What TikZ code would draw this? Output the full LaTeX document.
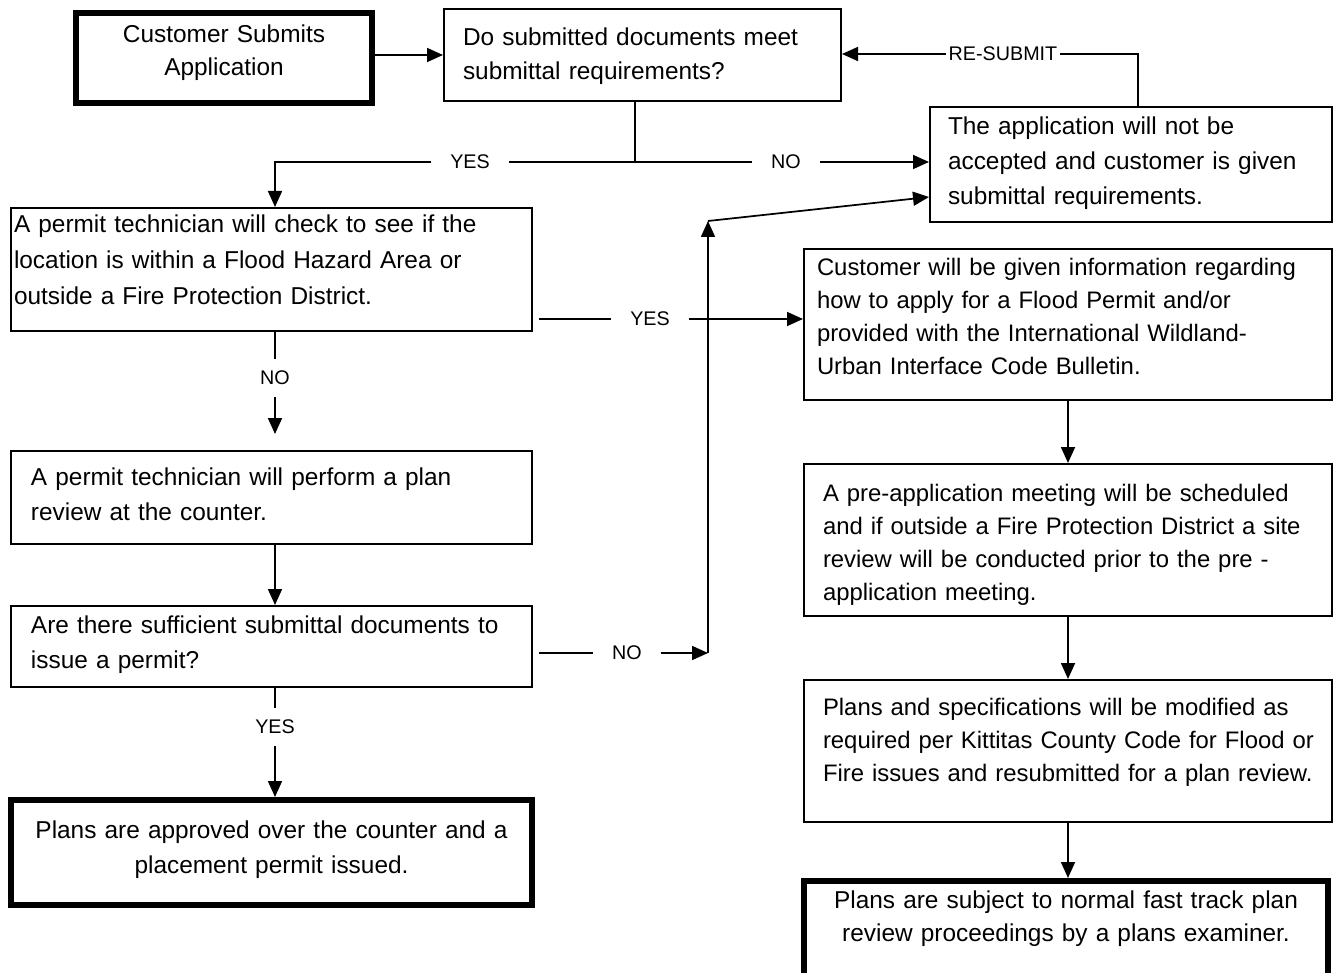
\documentclass[tikz,border=0pt]{standalone}
\usepackage{fontspec}
\setmainfont{Liberation Sans}
\usetikzlibrary{arrows.meta}
\begin{document}
\begin{tikzpicture}[x=0.75pt,y=-0.75pt,
  box/.style={draw, line width=1.6pt, rectangle, inner sep=0pt, anchor=north west, align=left,
    font=\fontsize{18.3}{26.25}\selectfont},
  thickbox/.style={box, line width=4.5pt, align=center},
  rbox/.style={box, font=\fontsize{17.9}{24.75}\selectfont},
  lbl/.style={inner xsep=14pt, inner ysep=9pt, font=\fontsize{14.8}{17}\selectfont},
  conn/.style={line width=1.3pt},
  arr/.style={conn, -{Triangle[length=12pt,width=10.5pt]}},
]
\useasboundingbox (0,0) rectangle (1337,973);

% boxes
\node[thickbox, text width=222pt, text height=22.5pt, text depth=45pt,
  font=\fontsize{18.3}{24.75}\selectfont] (A) at (73,10)
  {Customer Submits\\Application};
\node[box, text width=297.65pt, text height=27.7pt, text depth=41.2pt,
  font=\fontsize{18.3}{25.5}\selectfont] (B) at (443,8)
  {\leftskip=14.2pt\relax Do submitted documents meet\\submittal requirements?\par};
\node[box, text width=301.4pt, text height=20.95pt, text depth=65.2pt] (C) at (929,106)
  {\leftskip=13.45pt\relax The application will not be\\accepted and customer is given\\submittal requirements.\par};
\node[box, text width=390.65pt, text height=18.7pt, text depth=73.45pt,
  font=\fontsize{18.3}{27}\selectfont] (D) at (10,207)
  {\leftskip=2.2pt\relax A permit technician will check to see if the\\location is within a Flood Hazard Area or\\outside a Fire Protection District.\par};
\node[box, text width=390.65pt, text height=25.45pt, text depth=44.2pt] (E) at (10,450)
  {\leftskip=14.95pt\relax A permit technician will perform a plan\\review at the counter.\par};
\node[box, text width=390.65pt, text height=20.2pt, text depth=40.45pt] (F) at (10,605)
  {\leftskip=14.95pt\relax Are there sufficient submittal documents to\\issue a permit?\par};
\node[thickbox, text width=390.75pt, text height=28.5pt, text depth=50.25pt] (G) at (8,797)
  {Plans are approved over the counter and a\\placement permit issued.};
\node[rbox, text width=395.9pt, text height=20.2pt, text depth=92.95pt] (H) at (803,248)
  {\leftskip=9.7pt\relax Customer will be given information regarding\\how to apply for a Flood Permit and/or\\provided with the International Wildland-\\Urban Interface Code Bulletin.\par};
\node[rbox, text width=395.9pt, text height=27.7pt, text depth=86.2pt] (I) at (803,463)
  {\leftskip=14.2pt\relax A pre-application meeting will be scheduled\\and if outside a Fire Protection District a site\\review will be conducted prior to the pre -\\application meeting.\par};
\node[rbox, text width=395.9pt, text height=26.2pt, text depth=80.2pt] (J) at (803,679)
  {\leftskip=14.2pt\relax Plans and specifications will be modified as\\required per Kittitas County Code for Flood or\\Fire issues and resubmitted for a plan review.\par};
\node[thickbox, text width=393pt, text height=20.25pt, text depth=63pt,
  font=\fontsize{18.3}{24.75}\selectfont] (K) at (801,878)
  {Plans are subject to normal fast track plan\\review proceedings by a plans examiner.};

% labels
\node[lbl] (yes1) at (470,162) {YES};
\node[lbl] (no1) at (786,162) {NO};
\node[lbl, inner xsep=2pt] (rs) at (1003,54) {RE-SUBMIT};
\node[lbl] (yes2) at (650,319) {YES};
\node[lbl] (no2) at (275,378) {NO};
\node[lbl] (yes3) at (275,727) {YES};
\node[lbl] (no3) at (627,653) {NO};

% helper coordinates
\coordinate (s1) at (635,162);
\coordinate (colL) at (275,0);
\coordinate (r1) at (1138,54);
\coordinate (v1) at (708,653);
\coordinate (v2) at (708,221);
\coordinate (cin) at (929,197);

% connectors
\draw[arr] (A.east |- B.west) -- (B.west);
\draw[conn] (B.south -| s1) -- (s1) -- (yes1.east);
\draw[arr] (yes1.west) -| (D.north -| colL);
\draw[conn] (s1) -- (no1.west);
\draw[arr] (no1.east) -- (no1.east -| C.west);
\draw[conn] (C.north -| r1) -- (r1) -- (rs.east);
\draw[arr] (rs.west) -- (rs.west -| B.east);
\draw[conn, shorten <=4.5pt] (yes2.west -| D.east) -- (yes2.west);
\draw[arr] (yes2.east) -- (yes2.east -| H.west);
\draw[conn] (D.south -| colL) -- (no2.north);
\draw[arr, shorten >=12pt] (no2.south) -- (E.north -| colL);
\draw[arr] (E.south -| colL) -- (F.north -| colL);
\draw[conn] (F.south -| colL) -- (yes3.north);
\draw[arr] (yes3.south) -- (G.north -| colL);
\draw[conn, shorten <=4.5pt] (no3.west -| F.east) -- (no3.west);
\draw[arr] (no3.east) -- (v1);
\draw[arr] (v1) -- (v2);
\draw[arr] (v2) -- (cin);
\draw[arr] (H.south) -- (I.north);
\draw[arr] (I.south) -- (J.north);
\draw[arr] (J.south) -- (K.north -| J.south);
\end{tikzpicture}
\end{document}
